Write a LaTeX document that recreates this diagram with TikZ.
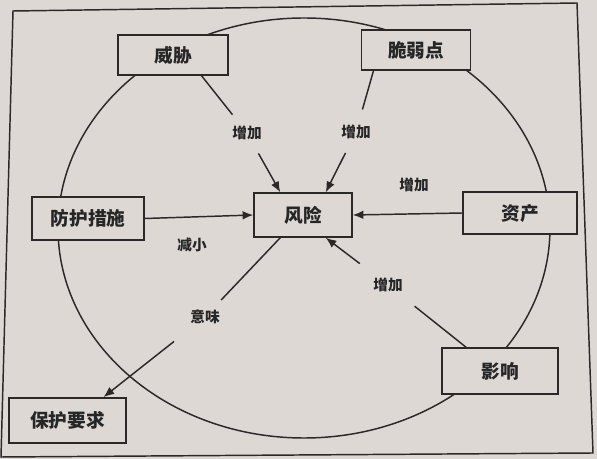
\documentclass[tikz,border=0pt]{standalone}
\usepackage{fontspec}
\setmainfont{Noto Sans CJK SC}
\usepackage{tikz}
\usetikzlibrary{
    arrows.meta
}
\definecolor{paper}{RGB}{222,216,213}
\definecolor{ink}{RGB}{45,40,40}
\tikzset{cbox/.style={draw=ink, fill=paper, line width=1.1pt, inner sep=0pt, text=black!85, font=\fontsize{14}{16}\selectfont\bfseries}}
\tikzset{clbl/.style={circle, inner sep=0pt, minimum size=34pt, text=black!85, font=\fontsize{11}{13}\selectfont\bfseries}}

\begin{document}
\begin{tikzpicture}[x=0.75pt, y=-0.75pt, line width=1.1pt, color=ink, >={Latex[length=8pt,width=6.5pt]}]
    \useasboundingbox (0,0) rectangle (597,459);
    \fill[paper] (0,0) rectangle (597,459);
    % frame and ring
    \draw (13,11) -- (577,3) -- (593,453) -- (1,457) -- cycle;
    \draw (304,228) ellipse [x radius=184.5pt, y radius=157.5pt];
    \foreach \n/\t/\x/\y/\w/\h in {thr/威胁/173/55/82.5/30, vul/脆弱点/416/50/82/30, sfg/防护措施/88/218.5/84/32, rsk/风险/303/215/73.5/33, ast/资产/520/213/85.5/31.5, imp/影响/500/371/87/34.5, req/保护要求/67.5/420.5/88/34} {
        \node[cbox, minimum width=\w pt, minimum height=\h pt] (\n) at (\x,\y) {\t};
    }
    \foreach \n/\t/\x/\y in {l1/增加/247/133, l2/增加/356/132, l3/减小/192/245, l4/增加/414/185, l5/增加/388/285, l6/意味/205/317} {
        \node[clbl] (\n) at (\x,\y) {\t};
    }
    % connectors
    \draw (thr.-36) -- (l1);
    \draw[->] (l1) -- (rsk.135);
    \draw (vul.-154) -- (l2);
    \draw[->] (l2) -- (rsk.45);
    \draw[->] (sfg.east) -- (rsk.west);
    \draw[->] (ast.west) -- (rsk.east);
    \draw[shorten >=8pt] (imp.145) -- (l5);
    \draw[->, shorten <=9pt] (l5) -- (rsk.-45);
    \draw (rsk.-135) -- (l6);
    \draw[->, shorten <=12pt] (l6) -- (req.33);
\end{tikzpicture}
\end{document}
